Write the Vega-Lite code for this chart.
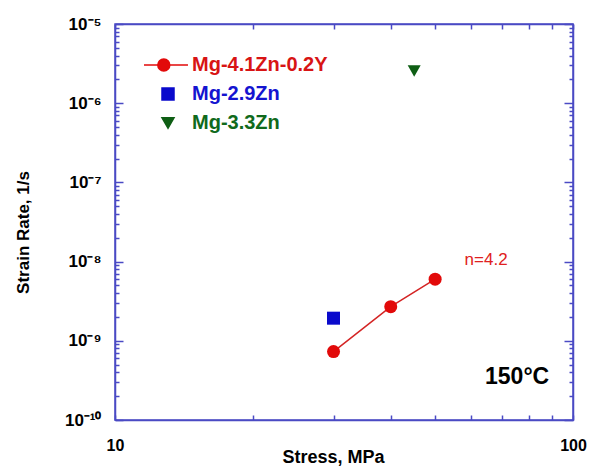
{
  "$schema": "https://vega.github.io/schema/vega-lite/v6.json",
  "width": 458,
  "height": 396,
  "autosize": {"type": "none"},
  "padding": {"left": 115, "top": 24, "right": 21, "bottom": 48},
  "background": "white",
  "datasets": {
    "pts": [
      {"series": "Mg-4.1Zn-0.2Y", "stress": 30, "rate": 7.3e-10},
      {"series": "Mg-4.1Zn-0.2Y", "stress": 40, "rate": 2.7e-9},
      {"series": "Mg-4.1Zn-0.2Y", "stress": 50, "rate": 6.0e-9},
      {"series": "Mg-2.9Zn", "stress": 30, "rate": 1.93e-9},
      {"series": "Mg-3.3Zn", "stress": 45, "rate": 2.55e-6}
    ],
    "ann": [{"stress": 64.6, "rate": 1.05e-8, "label": "n=4.2"}],
    "temp": [{"stress": 75.5, "rate": 3.5e-10, "label": "150°C"}]
  },
  "data": {"name": "pts"},
  "layer": [
    {
      "transform": [{"filter": "datum.series === 'Mg-4.1Zn-0.2Y'"}],
      "mark": {"type": "line", "color": "#d42424", "strokeWidth": 1.5},
      "encoding": {
        "x": {
          "field": "stress", "type": "quantitative",
          "scale": {"type": "log", "domain": [10, 100], "nice": false},
          "axis": {
            "orient": "top", "labels": false, "title": null, "grid": false,
            "values": [10, 20, 30, 40, 50, 60, 70, 80, 90, 100],
            "tickSize": -5, "tickColor": "#4a4ac4", "tickWidth": 1.5,
            "domainColor": "#4a4ac4", "domainWidth": 1.5
          }
        },
        "y": {
          "field": "rate", "type": "quantitative",
          "scale": {"type": "log", "domain": [1e-10, 1e-5], "nice": false},
          "axis": {
            "orient": "right", "labels": false, "title": null, "grid": false,
            "values": [1e-10, 2e-10, 3e-10, 4e-10, 5e-10, 6e-10, 7e-10, 8e-10, 9e-10, 1e-9, 2e-9, 3e-9, 4e-9, 5e-9, 6e-9, 7e-9, 8e-9, 9e-9, 1e-8, 2e-8, 3e-8, 4e-8, 5e-8, 6e-8, 7e-8, 8e-8, 9e-8, 1e-7, 2e-7, 3e-7, 4e-7, 5e-7, 6e-7, 7e-7, 8e-7, 9e-7, 1e-6, 2e-6, 3e-6, 4e-6, 5e-6, 6e-6, 7e-6, 8e-6, 9e-6, 1e-5],
            "tickSize": {"condition": {"test": "abs(datum.value / pow(10, round(log(datum.value)/LN10)) - 1) < 1e-6", "value": -9}, "value": -4},
            "tickColor": "#4a4ac4", "tickWidth": 1.5,
            "domainColor": "#4a4ac4", "domainWidth": 1.5
          }
        }
      }
    },
    {
      "mark": {"type": "point", "filled": true, "opacity": 1, "size": 169},
      "encoding": {
        "x": {
          "field": "stress", "type": "quantitative",
          "scale": {"type": "log", "domain": [10, 100], "nice": false},
          "axis": {
            "orient": "bottom", "grid": false,
            "values": [10, 20, 30, 40, 50, 60, 70, 80, 90, 100],
            "labelExpr": "datum.value == 10 ? '10' : (datum.value == 100 ? '100' : '')",
            "labelFont": "Liberation Sans", "labelFontWeight": "bold", "labelFontSize": 16, "labelColor": "black",
            "labelPadding": 22, "labelFlush": false, "labelOverlap": false,
            "tickSize": -5, "tickColor": "#4a4ac4", "tickWidth": 1.5,
            "domainColor": "#4a4ac4", "domainWidth": 1.5,
            "title": "Stress, MPa", "titleFont": "Liberation Sans", "titleFontWeight": "bold", "titleFontSize": 18, "titleColor": "black",
            "titleX": 218, "titleY": 37, "titleBaseline": "middle", "titleAlign": "center"
          }
        },
        "y": {
          "field": "rate", "type": "quantitative",
          "scale": {"type": "log", "domain": [1e-10, 1e-5], "nice": false},
          "axis": {
            "orient": "left", "grid": false,
            "values": [1e-10, 2e-10, 3e-10, 4e-10, 5e-10, 6e-10, 7e-10, 8e-10, 9e-10, 1e-9, 2e-9, 3e-9, 4e-9, 5e-9, 6e-9, 7e-9, 8e-9, 9e-9, 1e-8, 2e-8, 3e-8, 4e-8, 5e-8, 6e-8, 7e-8, 8e-8, 9e-8, 1e-7, 2e-7, 3e-7, 4e-7, 5e-7, 6e-7, 7e-7, 8e-7, 9e-7, 1e-6, 2e-6, 3e-6, 4e-6, 5e-6, 6e-6, 7e-6, 8e-6, 9e-6, 1e-5],
            "labelExpr": "abs(datum.value / pow(10, round(log(datum.value)/LN10)) - 1) < 1e-6 ? '10' + ['⁻¹⁰','⁻⁹','⁻⁸','⁻⁷','⁻⁶','⁻⁵'][round(log(datum.value)/LN10) + 10] : ''",
            "labelFont": "Liberation Sans", "labelFontWeight": "bold", "labelFontSize": 17, "labelColor": "black",
            "labelPadding": 22, "labelFlush": false, "labelOverlap": false,
            "tickSize": {"condition": {"test": "abs(datum.value / pow(10, round(log(datum.value)/LN10)) - 1) < 1e-6", "value": -8}, "value": -4},
            "tickColor": "#4a4ac4", "tickWidth": 1.5,
            "domainColor": "#4a4ac4", "domainWidth": 1.5,
            "title": "Strain Rate, 1/s", "titleFont": "Liberation Sans", "titleFontWeight": "bold", "titleFontSize": 17, "titleColor": "black",
            "titleX": -92, "titleY": 208, "titleBaseline": "middle", "titleAlign": "center", "titleAngle": 270
          }
        },
        "color": {
          "field": "series", "type": "nominal",
          "scale": {"domain": ["Mg-4.1Zn-0.2Y", "Mg-2.9Zn", "Mg-3.3Zn"], "range": ["#e20a0a", "#0a0acc", "#0e5e14"]},
          "legend": null
        },
        "shape": {
          "field": "series", "type": "nominal",
          "scale": {"domain": ["Mg-4.1Zn-0.2Y", "Mg-2.9Zn", "Mg-3.3Zn"], "range": ["circle", "square", "triangle-down"]},
          "legend": null
        }
      }
    },
    {
      "mark": {"type": "point", "filled": true, "opacity": 0, "size": 144},
      "encoding": {
        "x": {"field": "stress", "type": "quantitative", "scale": {"type": "log", "domain": [10, 100], "nice": false}, "axis": null},
        "y": {"field": "rate", "type": "quantitative", "scale": {"type": "log", "domain": [1e-10, 1e-5], "nice": false}, "axis": null},
        "fill": {
          "field": "series", "type": "nominal",
          "scale": {"domain": ["Mg-4.1Zn-0.2Y", "Mg-2.9Zn", "Mg-3.3Zn"], "range": ["#e20a0a", "#0a0acc", "#0e5e14"]},
          "legend": null
        },
        "stroke": {
          "field": "series", "type": "nominal",
          "scale": {"domain": ["Mg-4.1Zn-0.2Y", "Mg-2.9Zn", "Mg-3.3Zn"], "range": ["#e20a0a", "#0a0acc", "#0e5e14"]},
          "legend": null
        },
        "shape": {
          "field": "series", "type": "nominal",
          "scale": {"domain": ["Mg-4.1Zn-0.2Y", "Mg-2.9Zn", "Mg-3.3Zn"], "range": ["M-4,0L-1.7,0M0.3,0L3.33,0M-1.7,0A1,1,0,1,0,0.3,0A1,1,0,1,0,-1.7,0Z", "square", "triangle-down"]},
          "legend": {
            "orient": "none", "legendX": 43, "legendY": 31, "title": null, "padding": 0,
            "symbolSize": 144, "symbolOpacity": 1, "symbolStrokeWidth": 1.5, "symbolOffset": 0,
            "symbolFillColor": {"expr": "datum.value === 'Mg-4.1Zn-0.2Y' ? '#e20a0a' : (datum.value === 'Mg-2.9Zn' ? '#0a0acc' : '#0e5e14')"},
            "symbolStrokeColor": {"expr": "datum.value === 'Mg-4.1Zn-0.2Y' ? '#e20a0a' : (datum.value === 'Mg-2.9Zn' ? '#0a0acc' : '#0e5e14')"},
            "labelColor": {"expr": "datum.value === 'Mg-4.1Zn-0.2Y' ? '#d81414' : (datum.value === 'Mg-2.9Zn' ? '#1414d0' : '#106a1c')"},
            "labelOffset": 14, "rowPadding": 9,
            "labelFont": "Liberation Sans", "labelFontWeight": "bold", "labelFontSize": 20, "labelLimit": 300
          }
        }
      }
    },
    {
      "data": {"name": "ann"},
      "mark": {"type": "text", "font": "Liberation Sans", "fontSize": 17, "color": "#e02020", "align": "center", "baseline": "middle"},
      "encoding": {
        "x": {"field": "stress", "type": "quantitative", "scale": {"type": "log", "domain": [10, 100], "nice": false}, "axis": null},
        "y": {"field": "rate", "type": "quantitative", "scale": {"type": "log", "domain": [1e-10, 1e-5], "nice": false}, "axis": null},
        "text": {"field": "label"}
      }
    },
    {
      "data": {"name": "temp"},
      "mark": {"type": "text", "font": "Liberation Sans", "fontSize": 23, "fontWeight": "bold", "color": "black", "align": "center", "baseline": "middle"},
      "encoding": {
        "x": {"field": "stress", "type": "quantitative", "scale": {"type": "log", "domain": [10, 100], "nice": false}, "axis": null},
        "y": {"field": "rate", "type": "quantitative", "scale": {"type": "log", "domain": [1e-10, 1e-5], "nice": false}, "axis": null},
        "text": {"field": "label"}
      }
    }
  ],
  "resolve": {"scale": {"shape": "independent"}, "axis": {"x": "independent", "y": "independent"}},
  "config": {
    "view": {"stroke": "#4a4ac4", "strokeWidth": 1.5},
    "font": "Liberation Sans"
  }
}
